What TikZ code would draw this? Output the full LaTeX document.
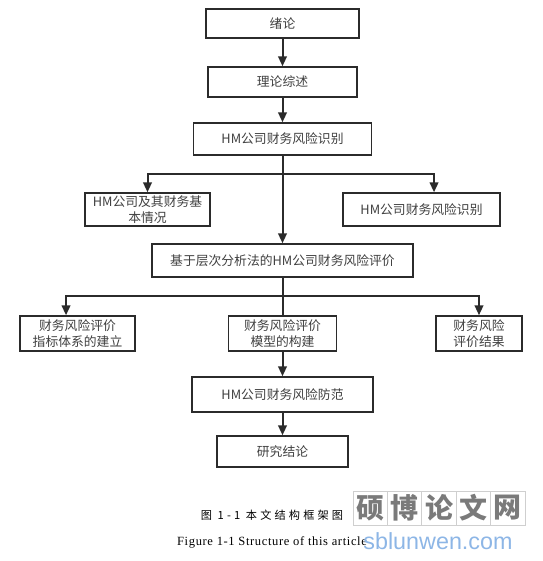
\documentclass[tikz,border=0pt]{standalone}
\usepackage{fontspec}
\setmainfont{Liberation Serif}
\newfontfamily\cjk{Noto Sans CJK SC}
\newfontfamily\wmsans{Liberation Sans}
\usetikzlibrary{arrows.meta}
\definecolor{linec}{HTML}{2B2B2B}
\definecolor{textc}{HTML}{404040}
\definecolor{wmgray}{HTML}{7A7A7A}
\definecolor{wmgrid}{HTML}{CFCFCF}
\definecolor{wmblue}{HTML}{8DB6E6}
\tikzset{
  box/.style 2 args={draw=linec, line width=1.1pt, fill=white, inner sep=0pt,
    minimum width={#1*0.75pt}, minimum height={#2*0.75pt}, align=center,
    text=textc, font=\cjk\fontsize{9.6}{12}\selectfont},
  arr/.style={draw=linec, line width=1.5pt, -{Triangle[width=6.5pt,length=7.5pt]}},
  plain/.style={draw=linec, line width=1.5pt},
  wmbox/.style={draw=wmgrid, line width=0.6pt, minimum width=25.8pt, minimum height=25.5pt,
    inner sep=0pt, text=wmgray, font=\cjk\bfseries\fontsize{21}{21}\selectfont}
}
\begin{document}
\begin{tikzpicture}[x=0.75pt,y=-0.75pt]
\useasboundingbox (0,0) rectangle (543,561);
% main column
\node[box={153}{29}] (b1) at (282.5,23.5) {绪论};
\node[box={149}{30}] (b2) at (282.5,82) {理论综述};
\node[box={178}{32}] (b3) at (282.5,139) {HM公司财务风险识别};
\node[box={125}{33}] (l1) at (147.5,209.5) {HM公司及其财务基\\本情况};
\node[box={157}{33}] (r1) at (421.5,209.5) {HM公司财务风险识别};
\node[box={261}{33}] (b4) at (282.5,260.5) {基于层次分析法的HM公司财务风险评价};
\node[box={115}{35}] (l2) at (77.5,333.5) {财务风险评价\\指标体系的建立};
\node[box={108}{35}] (m2) at (282.5,333.5) {财务风险评价\\模型的构建};
\node[box={86}{35}] (r2) at (479,333.5) {财务风险\\评价结果};
\node[box={181}{35}] (b5) at (282.5,394.5) {HM公司财务风险防范};
\node[box={131}{31}] (b6) at (282.5,451.5) {研究结论};
% junctions
\coordinate (j1) at (282.5,174);
\coordinate (j2) at (282.5,296);
% connectors
\draw[arr] (b1) -- (b2);
\draw[arr] (b2) -- (b3);
\draw[arr] (b3) -- (b4);
\draw[arr] (j1) -| (l1.north);
\draw[arr] (j1) -| ([xshift=9.4pt]r1.north);
\draw[plain] (b4) -- (m2);
\draw[arr] (j2) -| ([xshift=-8.6pt]l2.north);
\draw[arr] (j2) -| (r2.north);
\draw[arr] (m2) -- (b5);
\draw[arr] (b5) -- (b6);
% captions
\node[font=\cjk\fontsize{8.4}{10}\selectfont\addfontfeature{LetterSpace=28}, text=black] (cap1) at (272,515) {图 1-1 本文结构框架图};
\node[font=\fontsize{9.4}{11}\selectfont\addfontfeature{LetterSpace=5}, text=black] (cap2) at (272,542) {Figure 1-1 Structure of this article};
% watermark
\foreach \c [count=\i from 0] in {硕,博,论,文,网}{
  \node[wmbox] (wm\i) at (370.2+\i*34.4,508) {\c};
}
\node[font=\wmsans\fontsize{17.5}{18}\selectfont, text=wmblue] (wmurl) at (438,541) {sblunwen.com};
\end{tikzpicture}
\end{document}
